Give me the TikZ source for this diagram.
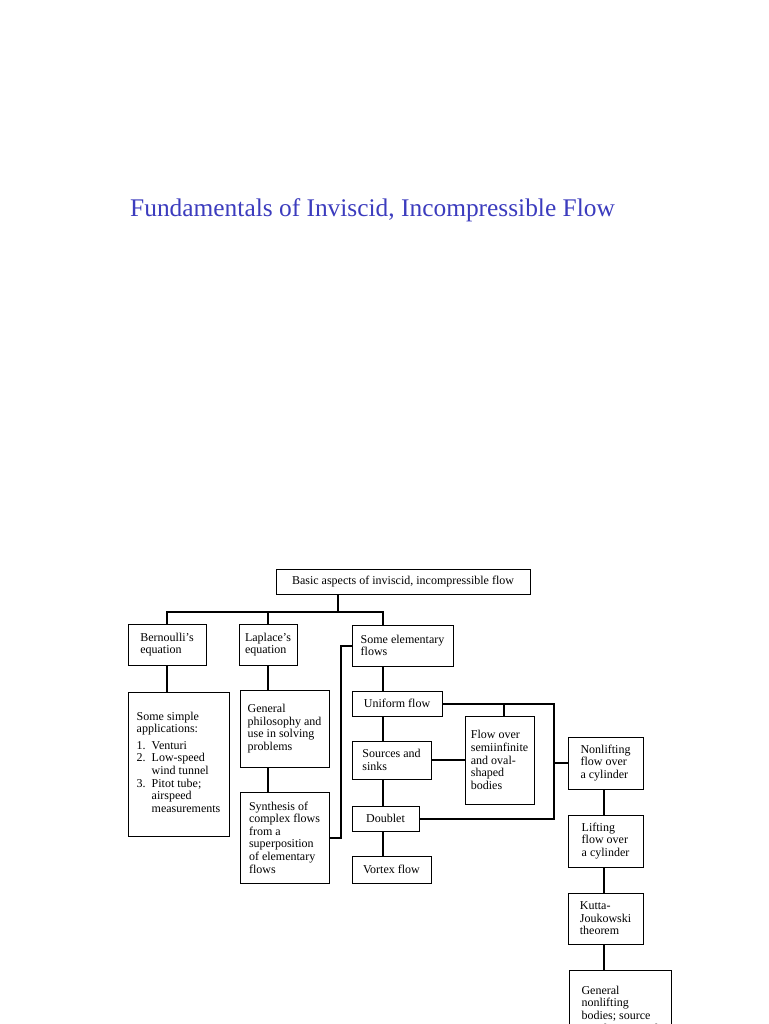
\documentclass[tikz,border=0pt]{standalone}
\usepackage{fontspec}
\setmainfont{Liberation Serif}
\usetikzlibrary{positioning,calc}
\definecolor{TitleBlue}{HTML}{3C3CBE}

\begin{document}
\begin{tikzpicture}[x=1pt,y=-1pt,
  every node/.style={font=\fontsize{12}{12.6}\selectfont},
  blk/.style={draw,line width=.7pt,inner xsep=3pt,inner ysep=0pt,align=left},
  link/.style={line width=2pt}]
  \clip (0,0) rectangle (768,1024);
  \fill[white] (0,0) rectangle (768,1024);
  \node[anchor=base west,inner sep=0pt,font=\fontsize{25.4}{30}\selectfont,text=TitleBlue] (title) at (130,217) {Fundamentals of Inviscid, Incompressible Flow};

  % top of the tree
  \node[blk,align=center,minimum width=254pt,minimum height=25pt] (basic) at (403,581.5) {Basic aspects of inviscid, incompressible flow};
  \node[blk,minimum width=78pt,minimum height=41pt] (bern) at (167,644.5) {Bernoulli's\\equation};
  \node[blk,minimum width=58pt,minimum height=41pt] (lapl) at (268,644.5) {Laplace's\\equation};
  \node[blk,minimum width=101pt,minimum height=41pt] (elem) at (402.5,645.5) {Some elementary\\flows};

  % second level
  \node[blk,minimum width=101pt,minimum height=144pt] (appl) at (178.5,764) {Some simple\\applications:\\[4pt]
    \begin{tabular}{@{}l@{\ \ }l@{}}1. & Venturi\\ 2. & Low-speed\\ & wind tunnel\\ 3. & Pitot tube;\\ & airspeed\\ & measurements\end{tabular}};
  \node[blk,minimum width=89pt,minimum height=77pt] (phil) at (284.5,728.5) {General\\philosophy and\\use in solving\\problems};
  \node[blk,minimum width=89pt,minimum height=91pt] (synth) at (284.5,837.5) {Synthesis of\\complex flows\\from a\\superposition\\of elementary\\flows};

  % elementary flows
  \node[blk,align=center,minimum width=90pt,minimum height=25pt] (unif) at (397,703.5) {Uniform flow};
  \node[blk,minimum width=79pt,minimum height=38pt] (srcs) at (391.5,760) {Sources and\\sinks};
  \node[blk,align=center,minimum width=67pt,minimum height=25pt] (dbl) at (385.5,818.5) {Doublet};
  \node[blk,align=center,minimum width=79pt,minimum height=27pt] (vort) at (391.5,869.5) {Vortex flow};
  \node[blk,minimum width=69pt,minimum height=88pt] (ovl) at (499.5,760) {Flow over\\semiinfinite\\and oval-\\shaped\\bodies};

  % cylinder column
  \node[blk,minimum width=75pt,minimum height=52pt] (nonl) at (605.5,763) {Nonlifting\\flow over\\a cylinder};
  \node[blk,minimum width=75pt,minimum height=52pt] (lift) at (605.5,841) {Lifting\\flow over\\a cylinder};
  \node[blk,minimum width=75pt,minimum height=51pt] (kutta) at (605.5,918.5) {Kutta-\\Joukowski\\theorem};
  \node[blk,anchor=north,inner ysep=2pt,minimum width=102pt,minimum height=80pt] (gen) at (620,970) {General\\nonlifting\\bodies; source\\panel numerical};

  % connectors
  \coordinate (bar) at (338,612);
  \coordinate (ecol) at (383,0);
  \coordinate (lcol) at (341,0);
  \coordinate (ocol) at (504,0);
  \coordinate (rcol) at (554,0);
  \coordinate (ccol) at (604,0);
  \draw[link] (basic.south -| bar) -- (bar);
  \draw[link] (bern.north) |- (ecol |- bar) -- (ecol |- elem.north);
  \draw[link] (lapl.north) -- (lapl.north |- bar);
  \draw[link] (bern.south) -- (bern.south |- appl.north);
  \draw[link] (lapl.south) -- (lapl.south |- phil.north);
  \draw[link] (lapl.south |- phil.south) -- (lapl.south |- synth.north);
  \draw[link] (elem.west) -| (lcol |- synth.east) -- (synth.east);
  \foreach \a/\b in {elem/unif,unif/srcs,srcs/dbl,dbl/vort}
    \draw[link] (ecol |- \a.south) -- (ecol |- \b.north);
  \draw[link] (unif.east) -| (rcol |- dbl.east) -- (dbl.east);
  \draw[link] (ocol |- unif.east) -- (ocol |- ovl.north);
  \draw[link] (srcs.east) -- (ovl.west);
  \draw[link] (rcol |- nonl.west) -- (nonl.west);
  \foreach \a/\b in {nonl/lift,lift/kutta,kutta/gen}
    \draw[link] (ccol |- \a.south) -- (ccol |- \b.north);
\end{tikzpicture}
\end{document}
